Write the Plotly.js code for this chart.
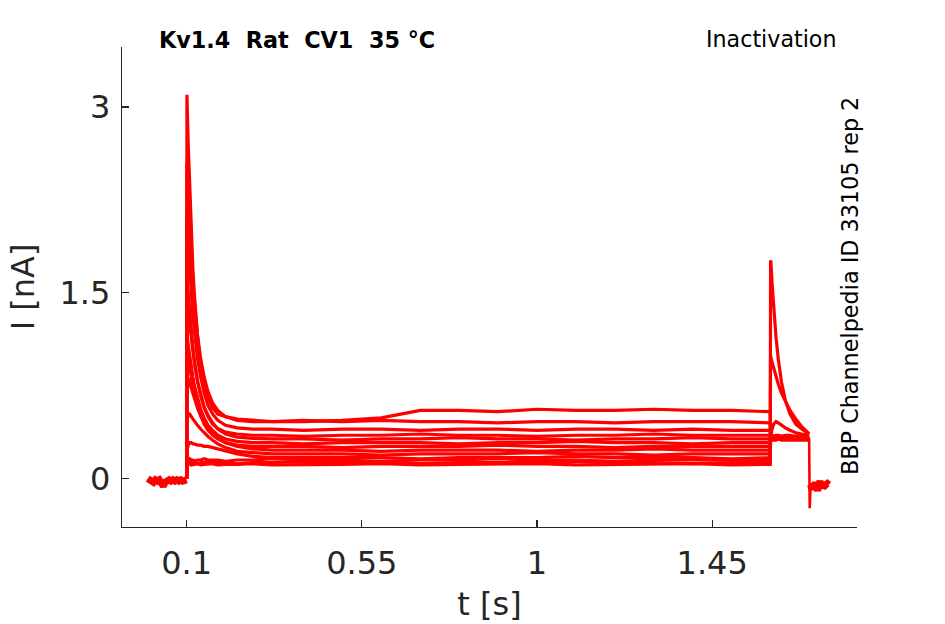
<!DOCTYPE html>
<html>
<head>
<meta charset="utf-8">
<script src="https://cdn.plot.ly/plotly-3.0.1.min.js"></script>
<style>html,body{margin:0;padding:0;background:#fff;}#chart{width:945px;height:624px;}</style>
</head>
<body>
<div id="chart"></div>
<script>
// ---- time bases (s) ----
const baseT  = [0.000, 0.005, 0.010, 0.015, 0.020, 0.025, 0.030, 0.035, 0.040, 0.045, 0.050, 0.055, 0.060, 0.065, 0.070, 0.075, 0.080, 0.085, 0.090, 0.095, 0.100];
const baseI  = [0.00, -0.01, -0.02, -0.03, -0.01, -0.02, -0.01, -0.04, -0.06, -0.03, -0.02, -0.01, -0.02, -0.01, -0.02, -0.01, -0.02, -0.01, -0.02, -0.01, -0.01];
const pulseT = [0.1, 0.1008, 0.104, 0.108, 0.112, 0.116, 0.12, 0.128, 0.136, 0.145, 0.155, 0.167, 0.18, 0.2, 0.23, 0.27, 0.32, 0.4, 0.5, 0.6, 0.7, 0.8, 0.9, 1.0, 1.1, 1.2, 1.3, 1.4, 1.5, 1.599];
const testT  = [1.6, 1.6008, 1.604, 1.608, 1.614, 1.62, 1.628, 1.638, 1.65, 1.665, 1.68, 1.699];
const spikeT = [1.699, 1.7005, 1.703];
const spikeI = [0.33, -0.24, -0.05];
const tailT  = [1.703, 1.706, 1.709, 1.712, 1.715, 1.718, 1.721, 1.724, 1.727, 1.730, 1.733, 1.736, 1.739, 1.742, 1.746, 1.750];
const tailI  = [-0.05, -0.09, -0.04, -0.07, -0.03, -0.06, -0.10, -0.05, -0.02, -0.06, -0.04, -0.08, -0.03, -0.05, -0.04, -0.05];

// ---- sweeps (nA): prepulse values on pulseT, then test-pulse values on testT ----
const sweep01 = [0, 3.10, 2.71, 2.31, 1.97, 1.70, 1.48, 1.15, 0.92, 0.76, 0.645, 0.57, 0.52, 0.50, 0.48, 0.47, 0.46, 0.46, 0.47, 0.49, 0.55, 0.55, 0.54, 0.56, 0.55, 0.55, 0.56, 0.55, 0.55, 0.54,
                 0.34, 0.34, 0.33, 0.34, 0.33, 0.33, 0.34, 0.33, 0.33, 0.34, 0.33, 0.33];
const sweep02 = [0, 2.55, 2.30, 2.03, 1.80, 1.60, 1.43, 1.16, 0.97, 0.82, 0.70, 0.61, 0.55, 0.50, 0.47, 0.46, 0.46, 0.47, 0.46, 0.47, 0.46, 0.46, 0.45, 0.46, 0.46, 0.45, 0.46, 0.46, 0.46, 0.45,
                 0.33, 0.33, 0.34, 0.33, 0.33, 0.34, 0.33, 0.33, 0.34, 0.33, 0.33, 0.33];
const sweep03 = [0, 2.10, 1.90, 1.68, 1.49, 1.32, 1.19, 0.97, 0.82, 0.69, 0.59, 0.52, 0.47, 0.43, 0.41, 0.40, 0.40, 0.39, 0.40, 0.40, 0.39, 0.40, 0.40, 0.39, 0.40, 0.40, 0.39, 0.40, 0.39, 0.39,
                 0.35, 0.35, 0.35, 0.34, 0.35, 0.35, 0.34, 0.35, 0.35, 0.34, 0.35, 0.34];
const sweep04 = [0, 1.66, 1.50, 1.33, 1.19, 1.06, 0.96, 0.79, 0.67, 0.57, 0.50, 0.44, 0.405, 0.375, 0.36, 0.35, 0.35, 0.34, 0.35, 0.35, 0.36, 0.35, 0.35, 0.34, 0.35, 0.35, 0.36, 0.35, 0.35, 0.35,
                 0.32, 0.32, 0.32, 0.33, 0.32, 0.32, 0.32, 0.33, 0.32, 0.32, 0.32, 0.32];
const sweep05 = [0, 1.47, 1.35, 1.23, 1.11, 1.01, 0.93, 0.78, 0.68, 0.58, 0.51, 0.45, 0.40, 0.36, 0.335, 0.325, 0.32, 0.32, 0.31, 0.32, 0.32, 0.33, 0.32, 0.32, 0.31, 0.32, 0.32, 0.33, 0.32, 0.32,
                 0.34, 0.34, 0.34, 0.34, 0.33, 0.34, 0.34, 0.34, 0.33, 0.34, 0.34, 0.33];
const sweep06 = [0, 1.17, 1.08, 0.98, 0.90, 0.82, 0.75, 0.65, 0.56, 0.49, 0.43, 0.39, 0.35, 0.32, 0.30, 0.29, 0.29, 0.28, 0.29, 0.29, 0.29, 0.28, 0.29, 0.29, 0.30, 0.29, 0.29, 0.28, 0.29, 0.29,
                 0.31, 0.31, 0.31, 0.31, 0.31, 0.32, 0.31, 0.31, 0.31, 0.31, 0.31, 0.31];
const sweep07 = [0, 1.06, 0.98, 0.89, 0.81, 0.74, 0.68, 0.58, 0.51, 0.44, 0.39, 0.35, 0.32, 0.29, 0.27, 0.26, 0.26, 0.26, 0.25, 0.26, 0.26, 0.26, 0.27, 0.26, 0.26, 0.25, 0.26, 0.26, 0.26, 0.26,
                 0.33, 0.33, 0.33, 0.33, 0.33, 0.33, 0.33, 0.33, 0.33, 0.33, 0.33, 0.33];
const sweep08 = [0, 0.74, 0.81, 0.77, 0.72, 0.68, 0.64, 0.57, 0.51, 0.46, 0.41, 0.37, 0.33, 0.29, 0.26, 0.24, 0.23, 0.23, 0.23, 0.22, 0.23, 0.23, 0.23, 0.22, 0.23, 0.23, 0.24, 0.23, 0.23, 0.23,
                 0.32, 0.32, 0.32, 0.32, 0.32, 0.32, 0.32, 0.32, 0.32, 0.32, 0.32, 0.32];
const sweep09 = [0, 0.45, 0.53, 0.52, 0.50, 0.48, 0.46, 0.43, 0.40, 0.37, 0.34, 0.31, 0.28, 0.25, 0.22, 0.21, 0.20, 0.20, 0.20, 0.19, 0.20, 0.20, 0.20, 0.21, 0.20, 0.20, 0.19, 0.20, 0.20, 0.20,
                 0.34, 0.34, 0.34, 0.34, 0.34, 0.34, 0.34, 0.34, 0.34, 0.34, 0.34, 0.34];
const sweep10 = [0, 0.22, 0.27, 0.29, 0.29, 0.28, 0.28, 0.27, 0.27, 0.26, 0.26, 0.25, 0.24, 0.22, 0.20, 0.18, 0.17, 0.17, 0.17, 0.17, 0.16, 0.17, 0.17, 0.17, 0.18, 0.17, 0.17, 0.17, 0.16, 0.17,
                 0.33, 0.33, 0.33, 0.33, 0.33, 0.33, 0.33, 0.33, 0.33, 0.33, 0.33, 0.33];
const sweep11 = [0, 0.15, 0.15, 0.16, 0.15, 0.15, 0.14, 0.15, 0.15, 0.16, 0.15, 0.15, 0.15, 0.14, 0.15, 0.15, 0.16, 0.15, 0.15, 0.14, 0.15, 0.15, 0.16, 0.15, 0.15, 0.14, 0.15, 0.15, 0.15, 0.15,
                 0.34, 0.36, 0.40, 0.44, 0.46, 0.45, 0.43, 0.41, 0.39, 0.37, 0.36, 0.35];
const sweep12 = [0, 0.13, 0.13, 0.13, 0.14, 0.13, 0.13, 0.12, 0.13, 0.13, 0.14, 0.13, 0.13, 0.13, 0.12, 0.13, 0.13, 0.14, 0.13, 0.13, 0.12, 0.13, 0.13, 0.13, 0.14, 0.13, 0.13, 0.12, 0.13, 0.13,
                 0.98, 0.98, 0.94, 0.89, 0.82, 0.76, 0.69, 0.62, 0.55, 0.48, 0.42, 0.36];
const sweep13 = [0, 0.115, 0.115, 0.12, 0.11, 0.115, 0.115, 0.12, 0.11, 0.115, 0.115, 0.12, 0.11, 0.115, 0.115, 0.12, 0.11, 0.115, 0.115, 0.12, 0.11, 0.115, 0.115, 0.12, 0.11, 0.115, 0.115, 0.12, 0.11, 0.115,
                 1.75, 1.75, 1.57, 1.37, 1.14, 0.96, 0.78, 0.63, 0.52, 0.44, 0.40, 0.36];
const sweeps = [sweep01, sweep02, sweep03, sweep04, sweep05, sweep06, sweep07, sweep08, sweep09, sweep10, sweep11, sweep12, sweep13];

// ---- axis ticks ----
const xTicks = [0.1, 0.55, 1, 1.45];
const xTickText = ['0.1', '0.55', '1', '1.45'];
const yTicks = [0, 1.5, 3];
const yTickText = ['0', '1.5', '3'];

const RED = '#ff0000';
const FONT = 'DejaVu Sans, Liberation Sans, sans-serif';
const sweepT = pulseT.concat(testT);

const traces = [];
traces.push({x: baseT, y: baseI, mode: 'lines', line: {color: RED, width: 7}, hoverinfo: 'skip'});
sweeps.forEach(s => traces.push({x: sweepT, y: s, mode: 'lines', line: {color: RED, width: 3.2}, hoverinfo: 'skip'}));
traces.push({x: spikeT, y: spikeI, mode: 'lines', line: {color: RED, width: 2.6}, hoverinfo: 'skip'});
traces.push({x: tailT, y: tailI, mode: 'lines', line: {color: RED, width: 7}, hoverinfo: 'skip'});

const axisCommon = {
  showline: true, linecolor: '#262626', linewidth: 1.3,
  ticks: 'inside', ticklen: 7, tickwidth: 1.3, tickcolor: '#262626',
  showgrid: false, zeroline: false,
  tickfont: {family: FONT, size: 32, color: '#262626'}
};

const layout = {
  width: 945, height: 624,
  margin: {l: 122, r: 88, t: 47, b: 97, pad: 0},
  paper_bgcolor: '#ffffff', plot_bgcolor: '#ffffff',
  showlegend: false,
  font: {family: FONT, color: '#262626'},
  xaxis: Object.assign({}, axisCommon, {
    range: [-0.066, 1.822], tickmode: 'array', tickvals: xTicks, ticktext: xTickText,
    ticklabelstandoff: 7,
    title: {text: 't [s]', font: {family: FONT, size: 32, color: '#262626'}, standoff: 12}
  }),
  yaxis: Object.assign({}, axisCommon, {
    range: [-0.391, 3.485], tickmode: 'array', tickvals: yTicks, ticktext: yTickText,
    ticklabelstandoff: 4,
    title: {text: 'I [nA]', font: {family: FONT, size: 32, color: '#262626'}, standoff: 15}
  }),
  annotations: [
    {xref: 'paper', yref: 'paper', x: (157 - 122) / 735, y: 1 + (47 - 40) / 480, xanchor: 'left', yanchor: 'middle',
     text: '<b>Kv1.4\u00a0\u00a0Rat\u00a0\u00a0CV1\u00a0\u00a035\u00a0°C</b>', showarrow: false,
     font: {family: FONT, size: 22.3, color: '#000000'}},
    {xref: 'paper', yref: 'paper', x: (839 - 122) / 735, y: 1 + (47 - 39) / 480, xanchor: 'right', yanchor: 'middle',
     text: 'Inactivation', showarrow: false, font: {family: FONT, size: 22.2, color: '#000000'}},
    {xref: 'paper', yref: 'paper', x: (850 - 122) / 735, y: (527 - 286) / 480, xanchor: 'center', yanchor: 'middle',
     text: 'BBP Channelpedia ID 33105 rep 2', textangle: -90, showarrow: false,
     font: {family: FONT, size: 22.3, color: '#000000'}}
  ]
};

Plotly.newPlot('chart', traces, layout, {displayModeBar: false, staticPlot: true});
</script>
</body>
</html>
